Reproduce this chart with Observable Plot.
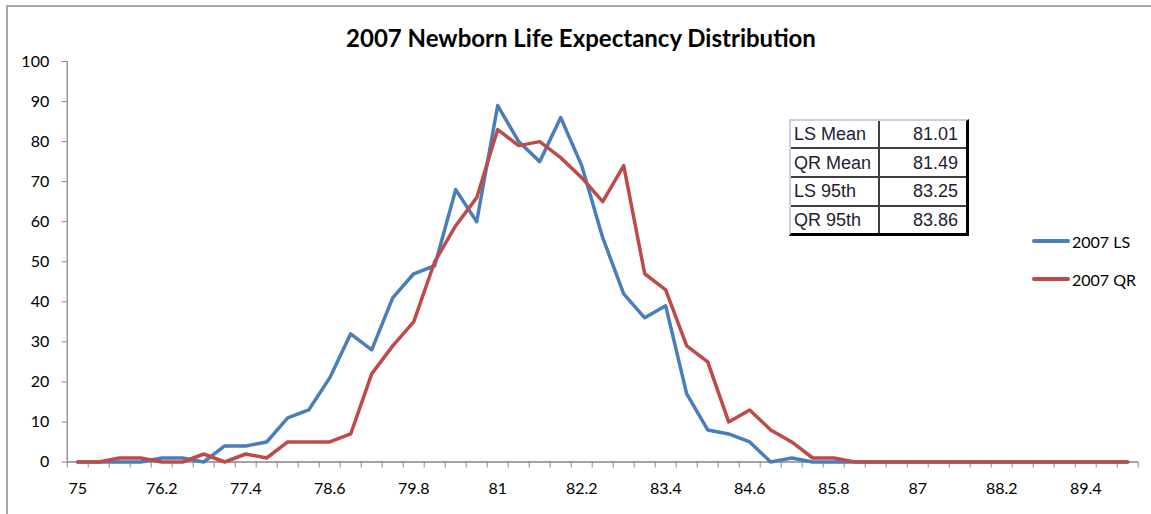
<!DOCTYPE html>
<html>
<head>
<meta charset="utf-8">
<script src="https://cdn.jsdelivr.net/npm/d3@7"></script>
<script src="https://cdn.jsdelivr.net/npm/@observablehq/plot@0.6"></script>
<style>
  html, body { margin: 0; padding: 0; background: #fff; overflow: hidden; }
  #wrap { position: relative; width: 1151px; height: 514px; font-family: Lato, "Open Sans", sans-serif; }
  #chart { position: absolute; left: 0; top: 0; }
  #frame { position: absolute; left: 6px; top: 5px; right: -10px; bottom: -10px;
           border-left: 2px solid #a6a6a6; border-top: 2px solid #a6a6a6; pointer-events: none; }
  #title { position: absolute; left: 281px; width: 600px; top: 24px; text-align: center;
           font: bold 24px Lato, sans-serif; color: #000; line-height: 28px; }
  .leg { position: absolute; left: 1032px; height: 20px; display: flex; align-items: center; font: 16px Lato, sans-serif; color: #000; }
  .leg .sw { width: 38px; height: 3.5px; border-radius: 2px; margin-right: 2px; }
  #stats { position: absolute; left: 789px; top: 119px; width: 180px; height: 117px; box-sizing: border-box;
           border-left: 2px solid #c9cee0; border-top: 2px solid #c9cee0; border-right: 3px solid #000; border-bottom: 3px solid #000; }
  #stats table { border-collapse: collapse; width: 100%; height: 100%; table-layout: fixed;
                 font: 18px "Liberation Sans", Arial, sans-serif; color: #1f1d33; }
  #stats td { padding: 0 3px; border-top: 2px solid #404040; line-height: 18px; }
  #stats tr:first-child td { border-top: none; }
  #stats td.v { text-align: right; padding-right: 8px; border-left: 2px solid #404040; }
</style>
</head>
<body>
<div id="wrap">
  <div id="chart"></div>
  <div id="frame"></div>
  <div id="title"></div>
  <div id="stats"></div>
  <div id="legend"></div>
</div>
<script>
const title = "2007 Newborn Life Expectancy Distribution";

const categories = [75, 75.3, 75.6, 75.9, 76.2, 76.5, 76.8, 77.1, 77.4, 77.7,
  78.0, 78.3, 78.6, 78.9, 79.2, 79.5, 79.8, 80.1, 80.4, 80.7,
  81.0, 81.3, 81.6, 81.9, 82.2, 82.5, 82.8, 83.1, 83.4, 83.7,
  84.0, 84.3, 84.6, 84.9, 85.2, 85.5, 85.8, 86.1, 86.4, 86.7,
  87.0, 87.3, 87.6, 87.9, 88.2, 88.5, 88.8, 89.1, 89.4, 89.7, 90.0];

const ls2007 = [0, 0, 0, 0, 1, 1, 0, 4, 4, 5,
  11, 13, 21, 32, 28, 41, 47, 49, 68, 60,
  89, 80, 75, 86, 74, 56, 42, 36, 39, 17,
  8, 7, 5, 0, 1, 0, 0, 0, 0, 0,
  0, 0, 0, 0, 0, 0, 0, 0, 0, 0, 0];

const qr2007 = [0, 0, 1, 1, 0, 0, 2, 0, 2, 1,
  5, 5, 5, 7, 22, 29, 35, 50, 59, 66,
  83, 79, 80, 76, 71, 65, 74, 47, 43, 29,
  25, 10, 13, 8, 5, 1, 1, 0, 0, 0,
  0, 0, 0, 0, 0, 0, 0, 0, 0, 0, 0];

const xTickLabels = [75, 76.2, 77.4, 78.6, 79.8, 81, 82.2, 83.4, 84.6, 85.8, 87, 88.2, 89.4];
const yTicks = [0, 10, 20, 30, 40, 50, 60, 70, 80, 90, 100];

const seriesNames = ["2007 LS", "2007 QR"];
const seriesColors = ["#4A7EBB", "#BE4B48"];

const statLabels = ["LS Mean", "QR Mean", "LS 95th", "QR 95th"];
const statValues = ["81.01", "81.49", "83.25", "83.86"];

// half category width: categories sit between tick marks (Excel style)
const half = (categories[1] - categories[0]) / 2;
const xMin = categories[0] - half;
const xMax = categories[categories.length - 1] + half;
const boundaries = categories.map(c => c - half).concat([xMax]);

const rows = [];
categories.forEach((c, i) => {
  rows.push({x: c, y: ls2007[i], s: seriesNames[0]});
});
categories.forEach((c, i) => {
  rows.push({x: c, y: qr2007[i], s: seriesNames[1]});
});

const axisColor = "#868686";

const chart = Plot.plot({
  width: 1151,
  height: 514,
  marginLeft: 66.7,
  marginRight: 13.3,
  marginTop: 61,
  marginBottom: 52.5,
  x: {type: "linear", domain: [xMin, xMax]},
  y: {domain: [0, 100]},
  color: {domain: seriesNames, range: seriesColors},
  style: {fontFamily: "Lato, sans-serif", fontSize: "16px", color: "#000", background: "transparent"},
  marks: [
    Plot.ruleX([xMin], {stroke: axisColor, strokeWidth: 1.3}),
    Plot.ruleY([0], {stroke: axisColor, strokeWidth: 1.3}),
    Plot.axisX({ticks: boundaries, tickFormat: () => "", tickSize: 6, stroke: axisColor, label: null}),
    Plot.axisX({ticks: xTickLabels, tickSize: 0, tickPadding: 21, tickFormat: d => String(d), label: null, fill: "#000"}),
    Plot.axisY({ticks: yTicks, tickSize: 5, tickPadding: 13, stroke: axisColor, label: null, fill: "#000"}),
    Plot.lineY(rows, {x: "x", y: "y", z: "s", stroke: "s", strokeWidth: 3.5,
      strokeLinejoin: "round", strokeLinecap: "round"})
  ]
});
document.getElementById("chart").appendChild(chart);

document.getElementById("title").textContent = title;

// stats table
const tbl = document.createElement("table");
statLabels.forEach((lab, i) => {
  const tr = document.createElement("tr");
  const a = document.createElement("td"); a.textContent = lab;
  const b = document.createElement("td"); b.textContent = statValues[i]; b.className = "v";
  tr.appendChild(a); tr.appendChild(b); tbl.appendChild(tr);
});
document.getElementById("stats").appendChild(tbl);

// legend
const legTops = [231, 269];
const legend = document.getElementById("legend");
seriesNames.forEach((name, i) => {
  const d = document.createElement("div");
  d.className = "leg";
  d.style.top = legTops[i] + "px";
  const sw = document.createElement("span"); sw.className = "sw"; sw.style.background = seriesColors[i];
  const t = document.createElement("span"); t.textContent = name;
  d.appendChild(sw); d.appendChild(t);
  legend.appendChild(d);
});
</script>
</body>
</html>
